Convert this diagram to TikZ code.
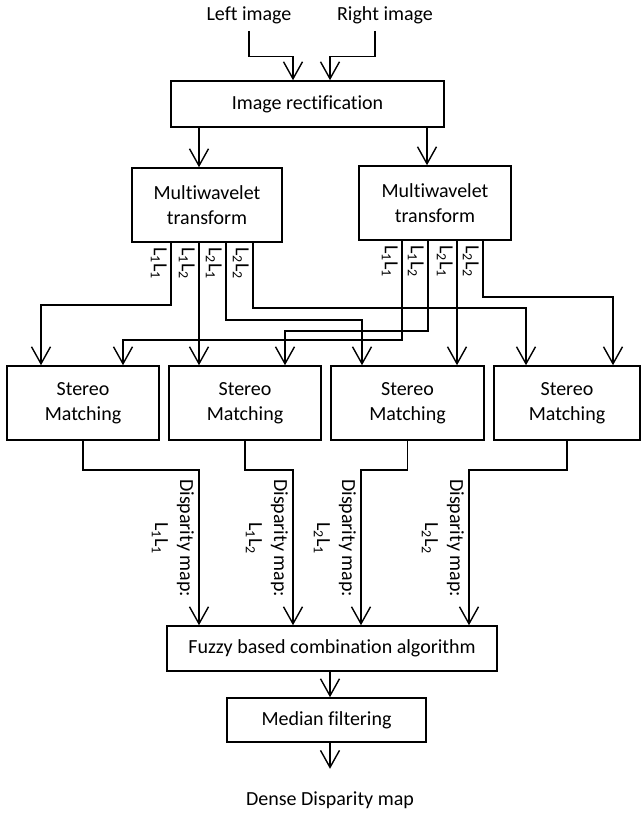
\documentclass[tikz,border=0pt]{standalone}
\usepackage{fontspec}
\setmainfont[Ligatures=NoCommon]{Carlito}
\usetikzlibrary{arrows.meta}

\begin{document}
\begin{tikzpicture}[x=1pt, y=-1pt,
    font=\fontsize{20}{25}\selectfont,
    box/.style={draw, line width=1.6pt, align=center, inner sep=0pt},
    arr/.style={-{Straight Barb[length=17pt,width=19pt]}, line width=1.4pt},
    sublbl/.style={rotate=-90, anchor=north west, inner sep=1pt},
    displbl/.style={rotate=-90, anchor=north, align=center, inner sep=2pt}]
    \useasboundingbox (0,0) rectangle (643,814);

    % Input images and rectification
    \node[outer sep=4pt] (left) at (249,15) {Left image};
    \node[outer sep=4pt] (right) at (385,15) {Right image};
    \node[box, minimum width=273pt, minimum height=46pt] (rect) at (307.5,104) {Image rectification};
    \coordinate (rect-in1) at ([xshift=-14.5pt]rect.north);
    \coordinate (rect-in2) at ([xshift=22.5pt]rect.north);
    \draw[arr] (left.south) |- ([yshift=24pt]rect-in1) -- (rect-in1);
    \draw[arr] ([xshift=-10pt]right.south) |- ([yshift=24pt]rect-in2) -- (rect-in2);

    % Multiwavelet transforms
    \node[box, minimum width=150pt, minimum height=74pt] (mwL) at (207,205) {Multiwavelet\\transform};
    \node[box, minimum width=152pt, minimum height=74pt] (mwR) at (435,203) {Multiwavelet\\transform};
    \coordinate (mwL-in) at ([xshift=-8pt]mwL.north);
    \coordinate (mwR-in) at ([xshift=-8pt]mwR.north);
    \draw[arr] (mwL-in |- rect.south) -- (mwL-in);
    \draw[arr] (mwR-in |- rect.south) -- (mwR-in);

    % Sub-band outputs
    \foreach \i/\dx in {1/-36,2/-8,3/19,4/46}
        \coordinate (mwL-\i) at ([xshift=\dx pt]mwL.south);
    \foreach \i/\dx in {1/-33,2/-7,3/22,4/48}
        \coordinate (mwR-\i) at ([xshift=\dx pt]mwR.south);
    \foreach \i/\a/\b in {1/1/1,2/1/2,3/2/1,4/2/2} {
        \node[sublbl] (bandL-\i) at ([xshift=-3pt,yshift=-3pt]mwL-\i) {L\textsubscript{\a}L\textsubscript{\b}};
        \node[sublbl] (bandR-\i) at ([xshift=-3pt,yshift=-3pt]mwR-\i) {L\textsubscript{\a}L\textsubscript{\b}};
    }

    % Stereo matching
    \foreach \i/\x/\w in {1/83/152,2/245/152,3/407.5/153,4/567/146}
        \node[box, minimum width=\w pt, minimum height=74pt] (sm\i) at (\x,403) {Stereo\\Matching};
    \coordinate (sm1-a) at ([xshift=-42pt]sm1.north);
    \coordinate (sm1-b) at ([xshift=40pt]sm1.north);
    \coordinate (sm2-a) at ([xshift=-46pt]sm2.north);
    \coordinate (sm2-b) at ([xshift=40pt]sm2.north);
    \coordinate (sm3-a) at ([xshift=-45.5pt]sm3.north);
    \coordinate (sm3-b) at ([xshift=49.5pt]sm3.north);
    \coordinate (sm4-a) at ([xshift=-41pt]sm4.north);
    \coordinate (sm4-b) at ([xshift=46pt]sm4.north);

    % Wiring of the sub-bands
    \draw[arr] (mwL-1) -- ++(0,62) -| (sm1-a);
    \draw[arr] (mwL-2) -- (sm2-a);
    \draw[arr] (mwL-3) -- ++(0,77) -| (sm3-a);
    \draw[arr] (mwL-4) -- ++(0,65) -| (sm4-a);
    \draw[arr] (mwR-1) -- ++(0,99) -| (sm1-b);
    \draw[arr] (mwR-2) -- ++(0,90) -| (sm2-b);
    \draw[arr] (mwR-3) -- (sm3-b);
    \draw[arr] (mwR-4) -- ++(0,56) -| (sm4-b);

    % Combination
    \node[box, minimum width=330pt, minimum height=45pt] (fuzzy) at (332,648.5) {Fuzzy based combination algorithm};
    \foreach \i/\dx in {1/-133,2/-39,3/29,4/137}
        \coordinate (fz-\i) at ([xshift=\dx pt]fuzzy.north);
    \foreach \i/\a/\b in {1/1/1,2/1/2,3/2/1,4/2/2} {
        \draw[arr] (sm\i.south) -- ++(0,29) -| (fz-\i);
        \node[displbl] (dmap-\i) at ([xshift=-3pt,yshift=87pt]fz-\i) {Disparity map:\\L\textsubscript{\a}L\textsubscript{\b}};
    }

    % Filtering and result
    \node[box, minimum width=199pt, minimum height=44pt] (median) at (326.5,720) {Median filtering};
    \node (dense) at (330,800) {Dense Disparity map};
    \coordinate (fz-out) at ([xshift=-2pt]fuzzy.south);
    \coordinate (md-out) at ([xshift=3.5pt]median.south);
    \draw[arr] (fz-out) -- (fz-out |- median.north);
    \draw[arr] (md-out) -- ++(0,26);
\end{tikzpicture}
\end{document}
